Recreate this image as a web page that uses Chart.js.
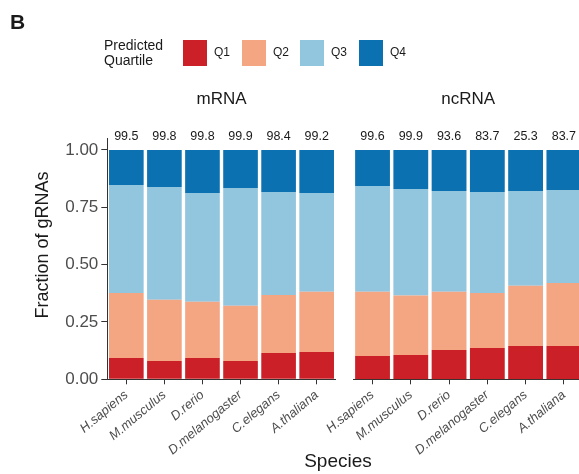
<!DOCTYPE html>
<html>
<head>
<meta charset="utf-8">
<script src="https://cdn.jsdelivr.net/npm/chart.js@4.4.1/dist/chart.umd.min.js"></script>
<style>
  html, body { margin: 0; padding: 0; width: 579px; height: 474px; overflow: hidden; background: #fff; }
  body { position: relative; font-family: "Liberation Sans", Arial, sans-serif; color: #1a1a1a; }
  canvas { position: absolute; top: 0; }
  #c1 { left: 0; }
  #c2 { left: 300px; }
  .txt { position: absolute; white-space: nowrap; }
  .box { position: absolute; top: 40px; width: 24px; height: 26px; }
</style>
</head>
<body>
<canvas id="c1" width="340" height="474"></canvas>
<canvas id="c2" width="283" height="474"></canvas>

<div class="txt" style="left:10px;top:10.5px;font-size:21px;line-height:21px;font-weight:bold;">B</div>
<div class="txt" style="left:104px;top:38px;font-size:14px;line-height:14.5px;">Predicted<br>Quartile</div>
<div id="legend"></div>
<div class="txt" style="left:338px;top:451px;font-size:19px;line-height:19px;transform:translateX(-50%);">Species</div>

<script>
const species = ['H.sapiens', 'M.musculus', 'D.rerio', 'D.melanogaster', 'C.elegans', 'A.thaliana'];
const quartiles = ['Q1', 'Q2', 'Q3', 'Q4'];
const colors = ['#CB2027', '#F4A582', '#92C5DE', '#0B71B0'];

// fractions per predicted quartile
const mrnaQ1 = [0.093, 0.080, 0.093, 0.080, 0.115, 0.119];
const mrnaQ2 = [0.283, 0.267, 0.245, 0.241, 0.253, 0.263];
const mrnaQ3 = [0.471, 0.492, 0.474, 0.513, 0.449, 0.430];
const mrnaQ4 = [0.153, 0.161, 0.188, 0.166, 0.183, 0.188];

const ncrnaQ1 = [0.102, 0.106, 0.128, 0.136, 0.145, 0.145];
const ncrnaQ2 = [0.280, 0.259, 0.254, 0.240, 0.263, 0.275];
const ncrnaQ3 = [0.461, 0.465, 0.439, 0.441, 0.413, 0.405];
const ncrnaQ4 = [0.157, 0.170, 0.179, 0.183, 0.179, 0.175];

// numbers printed above the bars
const mrnaCoverage = ['99.5', '99.8', '99.8', '99.9', '98.4', '99.2'];
const ncrnaCoverage = ['99.6', '99.9', '93.6', '83.7', '25.3', '83.7'];

const yTicks = [0, 0.25, 0.5, 0.75, 1.0];

const FONT = '"Liberation Sans", Arial, sans-serif';

// html legend
const legend = document.getElementById('legend');
const boxLeft = [183, 242, 300, 359];
quartiles.forEach((q, i) => {
  const b = document.createElement('div');
  b.className = 'box';
  b.style.left = boxLeft[i] + 'px';
  b.style.background = colors[i];
  legend.appendChild(b);
  const t = document.createElement('div');
  t.className = 'txt';
  t.style.cssText = 'left:' + (boxLeft[i] + 31) + 'px;top:45.5px;font-size:12px;line-height:12px;';
  t.textContent = q;
  legend.appendChild(t);
});

const panelText = {
  id: 'panelText',
  afterDatasetsDraw(chart, args, opts) {
    const { ctx, chartArea, scales } = chart;
    ctx.save();
    ctx.fillStyle = '#1a1a1a';
    ctx.textAlign = 'center';
    ctx.textBaseline = 'alphabetic';
    ctx.font = '17px ' + FONT;
    ctx.fillText(opts.title, (chartArea.left + chartArea.right) / 2, chartArea.top - 35);
    ctx.font = '12.5px ' + FONT;
    opts.labels.forEach((t, i) => {
      ctx.fillText(t, scales.x.getPixelForValue(i), chartArea.top + 1);
    });
    if (opts.yTitle) {
      ctx.translate(43, 245);
      ctx.rotate(-Math.PI / 2);
      ctx.textBaseline = 'middle';
      ctx.font = '18px ' + FONT;
      ctx.fillText(opts.yTitle, 0, 0);
    }
    ctx.restore();
  }
};

function makeChart(id, series, coverage, title, showY, padLeft, padRight) {
  return new Chart(document.getElementById(id), {
    type: 'bar',
    data: {
      labels: species,
      datasets: series.map((d, i) => ({
        label: quartiles[i],
        data: d,
        backgroundColor: colors[i],
        borderWidth: 0,
        barPercentage: 1,
        categoryPercentage: 0.91
      }))
    },
    options: {
      responsive: false,
      animation: false,
      layout: { padding: { top: 138.5, bottom: 0, left: padLeft, right: padRight } },
      plugins: {
        legend: { display: false },
        tooltip: { enabled: false },
        panelText: { title: title, labels: coverage, yTitle: showY ? 'Fraction of gRNAs' : null }
      },
      scales: {
        x: {
          stacked: true,
          offset: true,
          border: { display: true, color: '#333', width: 1 },
          grid: { offset: false, drawOnChartArea: false, drawTicks: true, tickLength: 5, tickColor: '#333' },
          ticks: {
            color: '#4d4d4d',
            font: { family: FONT, size: 13, style: 'italic' },
            maxRotation: 40,
            minRotation: 40,
            padding: 3,
            autoSkip: false
          },
          afterFit(scale) {
            scale.height = 94.7;
            scale.paddingLeft = 0;
            scale.paddingRight = 0;
          }
        },
        y: {
          display: showY,
          stacked: true,
          min: 0,
          max: 1.05,
          border: { display: true, color: '#333', width: 1 },
          grid: { drawOnChartArea: false, drawTicks: true, tickLength: 6, tickColor: '#333' },
          ticks: {
            color: '#4d4d4d',
            font: { family: FONT, size: 17 },
            padding: 3,
            callback: v => v.toFixed(2)
          },
          afterBuildTicks(scale) {
            scale.ticks = yTicks.map(v => ({ value: v }));
          },
          afterFit(scale) {
            scale.width = showY ? 107.3 : 0;
            scale.paddingTop = 0;
            scale.paddingBottom = 0;
          }
        }
      }
    },
    plugins: [panelText]
  });
}

makeChart('c1', [mrnaQ1, mrnaQ2, mrnaQ3, mrnaQ4], mrnaCoverage, 'mRNA', true, 0, 4.3);
makeChart('c2', [ncrnaQ1, ncrnaQ2, ncrnaQ3, ncrnaQ4], ncrnaCoverage, 'ncRNA', false, 53.4, 0);
</script>
</body>
</html>
